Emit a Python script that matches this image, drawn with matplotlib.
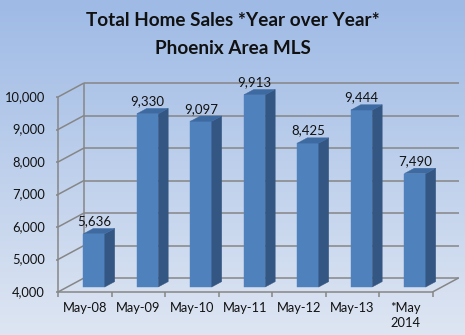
import matplotlib
matplotlib.use('Agg')
import matplotlib.pyplot as plt
from matplotlib.patches import Polygon
import numpy as np

# data
categories = ['May-08', 'May-09', 'May-10', 'May-11', 'May-12', 'May-13', '*May\n2014']
sales = [5636, 9330, 9097, 9913, 8425, 9444, 7490]
value_labels = ['5,636', '9,330', '9,097', '9,913', '8,425', '9,444', '7,490']
y_ticks = [4000, 5000, 6000, 7000, 8000, 9000, 10000]

plt.rcParams['font.family'] = ['Lato', 'DejaVu Sans']

fig = plt.figure(figsize=(4.65, 3.35), dpi=100)
ax = fig.add_axes([0, 0, 1, 1])
ax.set_axis_off()

# pixel mapping: category unit = 53.5 px, 1000 sales = 32.5 px
x_left, x_right = -58 / 53.5, (465 - 58) / 53.5
y_bot, y_top = 4000 - 43 / 0.0325, 4000 + 292 / 0.0325
ax.set_xlim(x_left, x_right)
ax.set_ylim(y_bot, y_top)

# background gradient
grad = np.linspace(0, 1, 256).reshape(-1, 1)
top_c = np.array([0.62, 0.73, 0.90])
bot_c = np.array([0.87, 0.90, 0.95])
img = top_c[None, None, :] * (1 - grad[:, :, None]) + bot_c[None, None, :] * grad[:, :, None]
ax.imshow(img, extent=[x_left, x_right, y_bot, y_top], aspect='auto', zorder=0)

DX, DY = 26 / 53.5, 14 / 0.0325
n = len(categories)
base = y_ticks[0]
grid_c = '#868686'


def P(x, v, d):
    return (x + d * DX, v + d * DY)


def seg(p, q, **kw):
    ax.plot([p[0], q[0]], [p[1], q[1]], color=grid_c, lw=1.1, solid_capstyle='butt', zorder=1, **kw)


# back wall and side wall gridlines
for v in y_ticks:
    seg(P(0, v, 1), P(n, v, 1))
    seg(P(0, v, 0), P(0, v, 1))
    seg(P(0, v, 0), P(-0.04, v, 0))
seg(P(0, base, 0), P(0, y_ticks[-1], 0))
seg(P(0, base, 1), P(0, y_ticks[-1], 1))
seg(P(0, base, 0), P(n, base, 0))
seg(P(n, base, 0), P(n, base, 1))
for i in range(n + 1):
    seg(P(i, base, 0), P(i, base - 150, 0))

# 3d bars
d0, d1 = 0.36, 0.74
bw = 0.40
front_c, side_c, top_face_c = '#4f81bd', '#345682', '#3e6aa2'
for i, val in enumerate(sales):
    xl = i + 0.5 - bw / 2
    xr = i + 0.5 + bw / 2
    front = [P(xl, base, d0), P(xr, base, d0), P(xr, val, d0), P(xl, val, d0)]
    side = [P(xr, base, d0), P(xr, base, d1), P(xr, val, d1), P(xr, val, d0)]
    topf = [P(xl, val, d0), P(xr, val, d0), P(xr, val, d1), P(xl, val, d1)]
    for poly, c in ((front, front_c), (side, side_c), (topf, top_face_c)):
        ax.add_patch(Polygon(poly, closed=True, facecolor=c, edgecolor=c, lw=0.3, zorder=3))
    lx, ly = P(i + 0.5, val, d0)
    ax.text(lx, ly + 200, value_labels[i], ha='center', va='bottom', fontsize=9.5, color='#111111', zorder=4)

# axis labels
for v in y_ticks:
    x, y = P(-0.24, v, 0)
    ax.text(x, y, f'{v:,}', ha='right', va='center', fontsize=9.3, color='#111111')
for i, lab in enumerate(categories):
    x, y = P(i + 0.5, base, 0)
    ax.text(x, y - 300, lab, ha='center', va='top', fontsize=9.3, color='#111111', linespacing=1.3)

fig.text(0.5, 0.938, 'Total Home Sales *Year over Year*', ha='center', va='center',
         fontsize=13.6, fontweight='bold', color='#111111')
fig.text(0.5, 0.855, 'Phoenix Area MLS', ha='center', va='center',
         fontsize=13.6, fontweight='bold', color='#111111')

fig.savefig('out.png', dpi=100)
